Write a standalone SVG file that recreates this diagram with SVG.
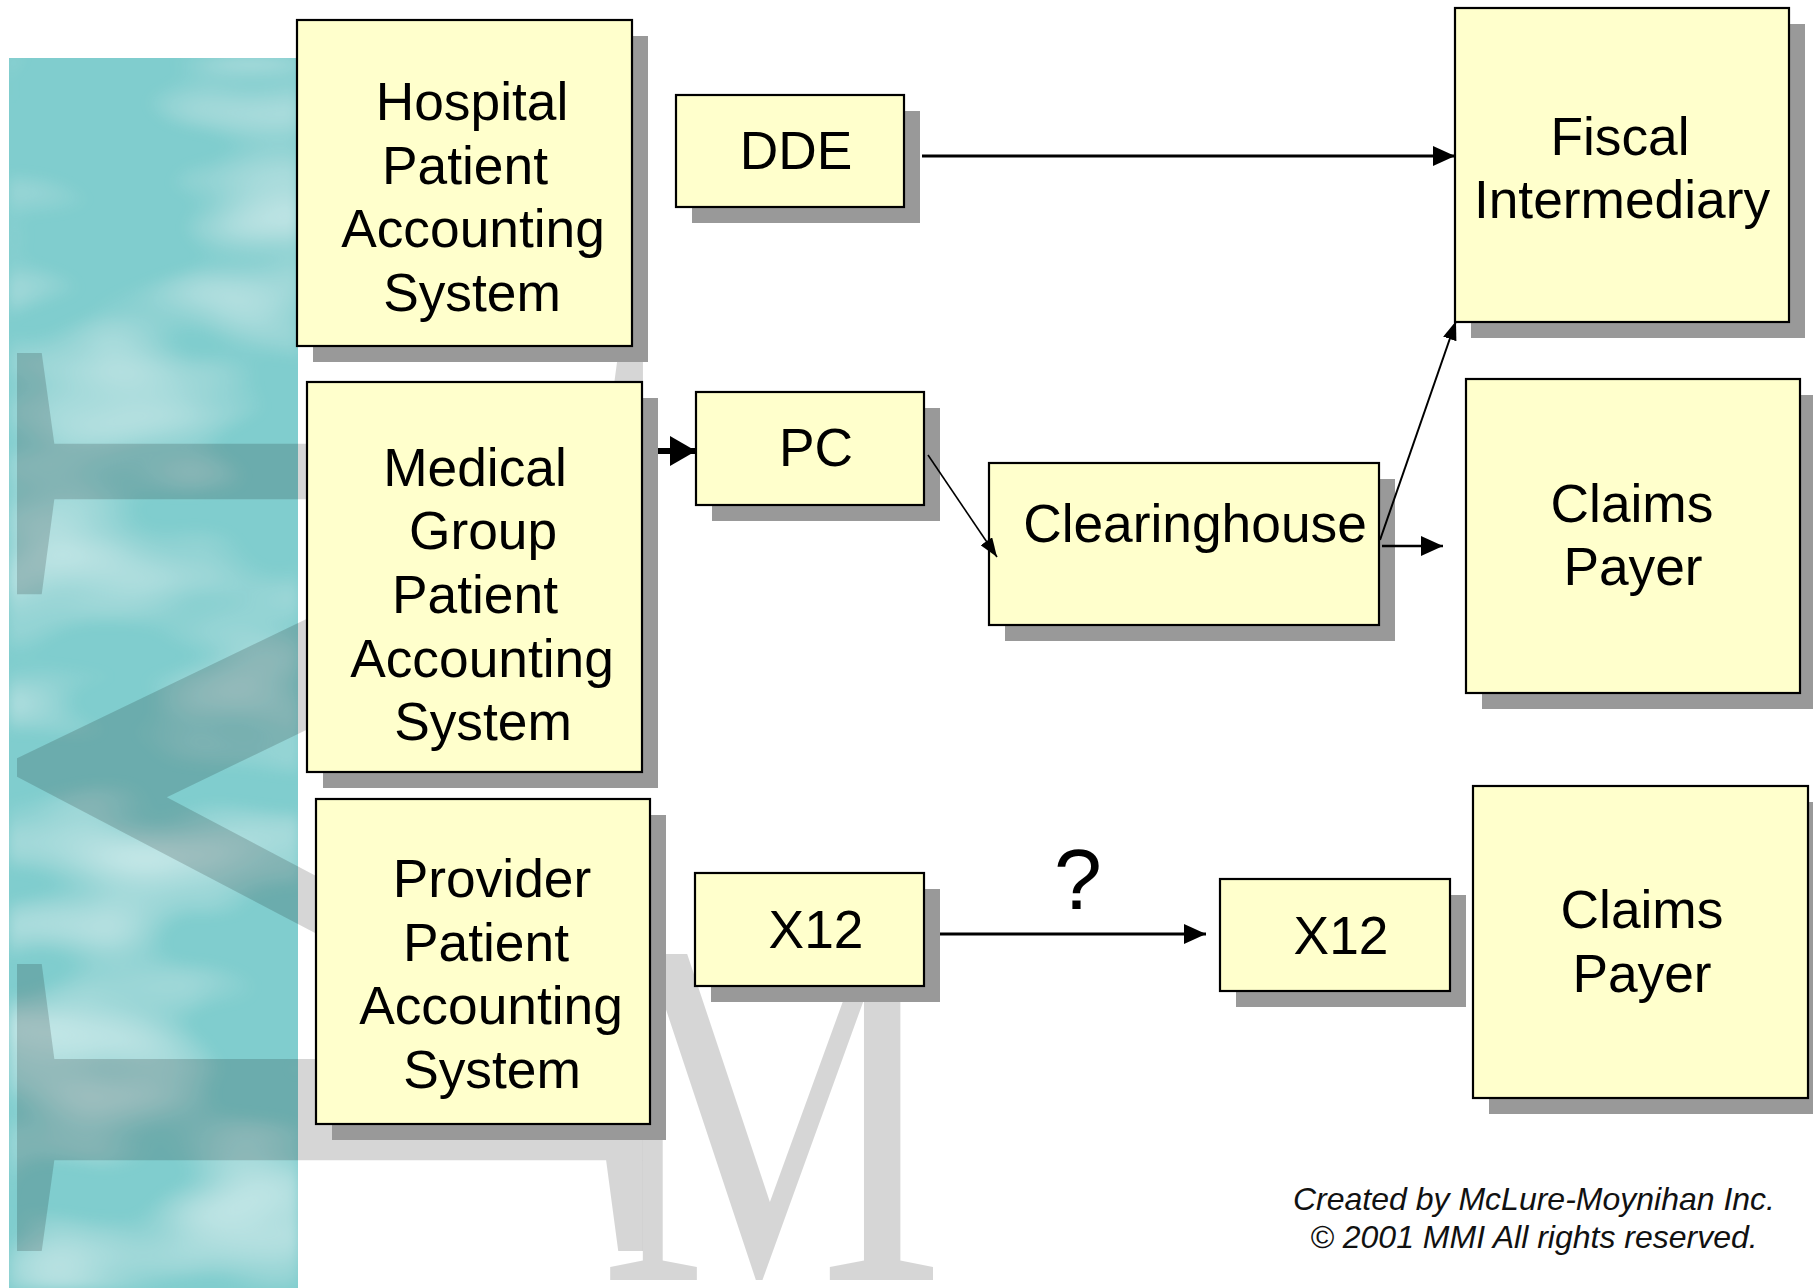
<svg xmlns="http://www.w3.org/2000/svg" width="1813" height="1288" viewBox="0 0 1813 1288">
  <defs>
    <style>
      .box{fill:#ffffcc;stroke:#000;stroke-width:2.2}
      .shadow{fill:#999}
      .lbl{font-family:"Liberation Sans",Arial,sans-serif;font-size:53.3px;fill:#000;text-anchor:middle}
      .q{font-family:"Liberation Sans",Arial,sans-serif;font-size:86px;fill:#000;text-anchor:middle}
      .foot{font-family:"Liberation Sans",Arial,sans-serif;font-size:32px;font-style:italic;fill:#111;text-anchor:middle}
      .wm{font-family:"Liberation Serif","Times New Roman",serif;fill:#000;fill-opacity:.16}
      .conn line{stroke:#000;fill:none}
    </style>
    <filter id="clouds" x="0" y="0" width="1" height="1">
      <feTurbulence type="fractalNoise" baseFrequency="0.005 0.011" numOctaves="2" seed="11" result="noise"/>
      <feColorMatrix in="noise" type="matrix" values="0 0 0 0 0.74  0 0 0 0 0.9  0 0 0 0 0.9  0 0 0 1.7 -0.72" result="wisps"/>
      <feGaussianBlur in="wisps" stdDeviation="6" result="soft"/>
      <feComposite in="soft" in2="SourceAlpha" operator="in" result="clipped"/>
      <feMerge><feMergeNode in="SourceGraphic"/><feMergeNode in="clipped"/></feMerge>
    </filter>
    <marker id="ah" markerUnits="userSpaceOnUse" markerWidth="22" markerHeight="20" refX="22" refY="10" orient="auto">
      <path d="M0,0 L22,10 L0,20 z" fill="#000"/>
    </marker>
    <marker id="ahBig" markerUnits="userSpaceOnUse" markerWidth="26" markerHeight="30" refX="26" refY="15" orient="auto">
      <path d="M0,0 L26,15 L0,30 z" fill="#000"/>
    </marker>
    <marker id="ahSmall" markerUnits="userSpaceOnUse" markerWidth="19" markerHeight="14" refX="19" refY="7" orient="auto">
      <path d="M0,0 L19,7 L0,14 z" fill="#000"/>
    </marker>
  </defs>

  <rect width="1813" height="1288" fill="#fff"/>

  <!-- teal side panel -->
  <rect x="9" y="58" width="289" height="1230" fill="#80cdce" filter="url(#clouds)"/>

  <!-- watermark letters -->
  <g id="watermark">
    <text class="wm" font-size="956" transform="translate(17,322) rotate(90) scale(1.13,1)">M</text>
    <text class="wm" font-size="498" transform="translate(599,1280) scale(0.78,1)">M</text>
  </g>

  <g id="hospital">
    <rect class="shadow" x="313" y="36" width="335" height="326"/>
    <rect class="box" x="297" y="20" width="335" height="326"/>
    <text class="lbl"><tspan x="472" y="120">Hospital</tspan><tspan x="465" y="184">Patient</tspan><tspan x="473" y="247">Accounting</tspan><tspan x="472" y="311">System</tspan></text>
  </g>

  <g id="dde">
    <rect class="shadow" x="692" y="111" width="228" height="112"/>
    <rect class="box" x="676" y="95" width="228" height="112"/>
    <text class="lbl" x="796" y="169">DDE</text>
  </g>

  <g id="fiscal">
    <rect class="shadow" x="1471" y="24" width="334" height="314"/>
    <rect class="box" x="1455" y="8" width="334" height="314"/>
    <text class="lbl"><tspan x="1620" y="155">Fiscal</tspan><tspan x="1622" y="218">Intermediary</tspan></text>
  </g>

  <g id="medical">
    <rect class="shadow" x="323" y="398" width="335" height="390"/>
    <rect class="box" x="307" y="382" width="335" height="390"/>
    <text class="lbl"><tspan x="475" y="486">Medical</tspan><tspan x="483" y="549">Group</tspan><tspan x="475" y="613">Patient</tspan><tspan x="482" y="677">Accounting</tspan><tspan x="483" y="740">System</tspan></text>
  </g>

  <g id="pc">
    <rect class="shadow" x="712" y="408" width="228" height="113"/>
    <rect class="box" x="696" y="392" width="228" height="113"/>
    <text class="lbl" x="816" y="466">PC</text>
  </g>

  <g id="clearinghouse">
    <rect class="shadow" x="1005" y="479" width="390" height="162"/>
    <rect class="box" x="989" y="463" width="390" height="162"/>
    <text class="lbl" x="1195" y="542">Clearinghouse</text>
  </g>

  <g id="claims-payer-1">
    <rect class="shadow" x="1482" y="395" width="334" height="314"/>
    <rect class="box" x="1466" y="379" width="334" height="314"/>
    <text class="lbl"><tspan x="1632" y="522">Claims</tspan><tspan x="1633" y="585">Payer</tspan></text>
  </g>

  <g id="provider">
    <rect class="shadow" x="332" y="815" width="334" height="325"/>
    <rect class="box" x="316" y="799" width="334" height="325"/>
    <text class="lbl"><tspan x="492" y="897">Provider</tspan><tspan x="486" y="961">Patient</tspan><tspan x="491" y="1024">Accounting</tspan><tspan x="492" y="1088">System</tspan></text>
  </g>

  <g id="x12-sender">
    <rect class="shadow" x="711" y="889" width="229" height="113"/>
    <rect class="box" x="695" y="873" width="229" height="113"/>
    <text class="lbl" x="816" y="948">X12</text>
  </g>

  <g id="x12-receiver">
    <rect class="shadow" x="1236" y="895" width="230" height="112"/>
    <rect class="box" x="1220" y="879" width="230" height="112"/>
    <text class="lbl" x="1341" y="954">X12</text>
  </g>

  <g id="claims-payer-2">
    <rect class="shadow" x="1489" y="802" width="335" height="312"/>
    <rect class="box" x="1473" y="786" width="335" height="312"/>
    <text class="lbl"><tspan x="1642" y="928">Claims</tspan><tspan x="1642" y="992">Payer</tspan></text>
  </g>

  <g id="connectors" class="conn">
    <line x1="922" y1="156" x2="1455" y2="156" stroke-width="3" marker-end="url(#ah)"/>
    <line x1="658" y1="451" x2="696" y2="451" stroke-width="6" marker-end="url(#ahBig)"/>
    <line x1="928" y1="455" x2="997" y2="557" stroke-width="1.6" marker-end="url(#ahSmall)"/>
    <line x1="1380" y1="540" x2="1456" y2="321" stroke-width="2" marker-end="url(#ahSmall)"/>
    <line x1="1382" y1="546" x2="1443" y2="546" stroke-width="2.5" marker-end="url(#ah)"/>
    <line x1="940" y1="934" x2="1206" y2="934" stroke-width="3" marker-end="url(#ah)"/>
    <text class="q" x="1078" y="909">?</text>
  </g>

  <g id="credit">
    <text class="foot" x="1534" y="1210">Created by McLure-Moynihan Inc.</text>
    <text class="foot" x="1534" y="1248">© 2001 MMI All rights reserved.</text>
  </g>
</svg>
